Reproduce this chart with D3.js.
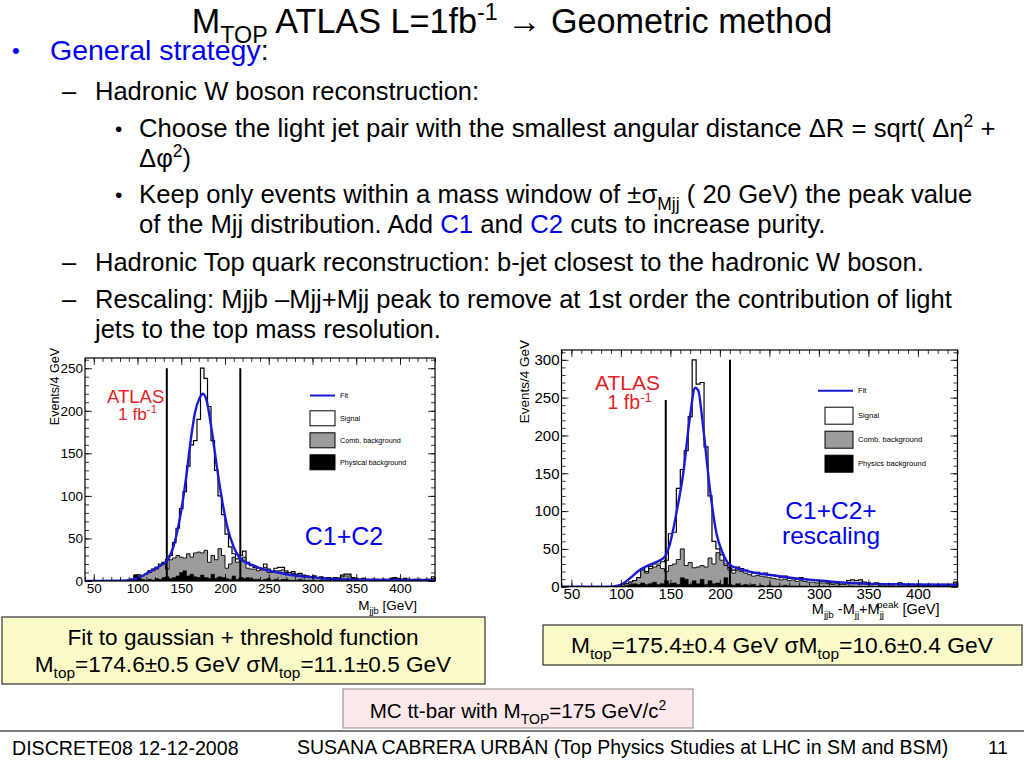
<!DOCTYPE html>
<html>
<head>
<meta charset="utf-8">
<script src="https://cdn.jsdelivr.net/npm/d3@7"></script>
<style>
  body { margin: 0; background: #fff; }
  svg { display: block; font-family: "Liberation Sans", Arial, Helvetica, sans-serif; }
</style>
</head>
<body>
<div id="slide"></div>
<script>
// bins of 4 GeV from 40 to 440 (lower edges)
const binLow = d3.range(40, 440, 4);

// left plot (C1+C2) : stacked heights
const leftAll = [0,0,0,0,0,0,0,0,0,0,
  0,0,1,2,7,7,6,8,12,14,
  16,20,22,25,30,45,62,85,105,135,
  160,165,190,250,238,205,165,130,100,78,
  55,40,32,26,30,35,22,18,16,15,
  14,20,14,11,15,16,16,12,10,11,
  8,9,7,6,5,6,4,5,3,4,
  3,4,3,7,8,8,4,3,2,3,
  2,1,2,2,1,2,1,3,4,3,
  2,3,2,1,2,2,1,2,2,5];
const leftBkg = [0,0,0,0,0,0,0,0,0,0,
  0,0,1,2,7,7,6,8,10,12,
  14,18,20,14,25,27,30,28,27,32,
  28,33,34,33,36,22,30,25,38,30,
  15,20,28,22,24,28,15,14,14,12,
  13,16,10,10,12,12,13,10,8,9,
  7,7,6,5,4,5,3,4,3,3,
  2,3,3,5,6,6,3,2,2,2,
  1,1,2,1,1,1,1,2,3,2,
  2,2,1,1,1,2,1,1,2,3];
const leftPhys = [0,0,0,0,0,0,0,0,0,0,
  0,0,0,2,7,5,2,1,2,1,
  3,2,4,5,3,4,6,10,12,6,
  8,5,4,7,4,3,8,3,5,4,
  3,2,6,2,4,3,4,3,2,2,
  1,2,3,1,2,1,2,2,1,1,
  1,2,1,1,1,1,0,1,0,1,
  0,1,0,1,1,1,0,0,0,0,
  0,0,1,0,0,0,0,1,1,0,
  0,1,0,0,0,1,0,0,1,1];
const leftFit = [[40,0],[80,0.3],[90,1],[99,3],[114,11],[126,18],[134,24],[141,40],
  [149,77],[156,125],[160,159],[166,199],[171,215],[174.6,220],[179,212],[185,176],
  [191,132],[197,93],[203,62],[210,40],[218,26],[233,18],[240,15],[260,10],[275,7],
  [300,4.5],[313,3],[350,1.5],[400,1.2],[440,1]];
const leftCuts = [[133.5,250],[217.5,250]];

// right plot (C1+C2+rescaling)
const rightAll = [0,0,0,0,0,0,0,0,0,0,
  0,0,0,0,0,3,4,6,8,12,
  24,20,27,30,30,33,35,70,72,130,
  155,180,225,300,268,270,185,120,60,50,
  42,30,25,22,26,24,22,20,18,19,
  17,18,16,15,14,12,14,11,12,10,
  12,10,9,9,8,7,7,6,5,6,
  5,5,8,9,8,9,6,5,4,5,
  4,3,4,3,4,5,3,2,3,2,
  3,2,2,3,2,2,3,2,3,6];
const rightBkg = [0,0,0,0,0,0,0,0,0,0,
  0,0,0,0,0,3,4,6,8,12,
  22,18,24,26,28,24,20,28,30,36,
  50,28,32,25,26,28,26,38,30,45,
  35,28,22,18,22,20,18,16,14,15,
  14,13,12,11,10,9,10,8,9,7,
  8,7,6,6,5,5,5,4,3,4,
  3,3,5,6,5,6,4,3,3,3,
  2,2,3,2,3,3,2,1,2,1,
  2,1,1,2,1,1,2,1,2,4];
const rightPhys = [0,0,0,0,0,0,0,0,0,0,
  0,0,0,0,0,1,2,3,4,3,
  5,3,4,6,3,4,8,4,5,3,
  12,10,3,8,4,10,3,8,4,5,
  3,12,3,2,4,2,3,2,3,1,
  2,1,2,1,1,1,2,1,1,1,
  1,1,1,0,1,0,1,0,0,1,
  0,0,1,1,0,1,0,0,1,0,
  0,0,1,0,0,1,0,0,0,0,
  1,0,0,1,0,0,1,0,0,1];
const rightFit = [[40,0],[89,0],[99,2],[109,11],[119,22],[129,29],[139.5,35],[144.5,40],
  [149.6,57],[156,97],[163,150],[169.8,225],[175,263],[178,260],[183,212],[190,128],
  [196.6,70],[203,44],[210,29],[230,20],[251,15.5],[277,11],[311,7],[345,4],[390,3],[440,2.5]];
const rightCuts = [[145.3,247],[210.2,300]];

const xTicks = [50,100,150,200,250,300,350,400];
const legendLabelsLeft = ["Fit","Signal","Comb. background","Physical background"];
const legendLabelsRight = ["Fit","Signal","Comb. background","Physics background"];

const FONT = '"Liberation Sans", Arial, Helvetica, sans-serif';
const BLUE = "#0000ee";
const RED = "#e41e26";

const svg = d3.select("#slide").append("svg")
  .attr("width", 1024).attr("height", 768);

// text with sub/superscripts
function richText(sel, x, y, parts, size, anchor) {
  const t = sel.append("text").attr("x", x).attr("y", y)
    .attr("font-size", size).attr("text-anchor", anchor || "start");
  let shift = 0;
  parts.forEach(p => {
    const want = p.sub ? size * 0.28 : (p.sup ? -size * 0.38 : 0);
    const ts = t.append("tspan").attr("dy", want - shift).text(p.t);
    if (p.sub || p.sup) ts.attr("font-size", size * (p.scale || 0.68));
    if (p.c) ts.attr("fill", p.c);
    if (p.dx) ts.attr("dx", p.dx);
    shift = want;
  });
  return t;
}

function drawPlot(cfg) {
  const x = d3.scaleLinear().domain([40, 440]).range([cfg.left, cfg.right]);
  const y = d3.scaleLinear().domain([0, cfg.yMax]).range([cfg.bottom, cfg.top]);
  const g = svg.append("g");

  const clipId = "clip" + cfg.id;
  g.append("clipPath").attr("id", clipId).append("rect")
    .attr("x", cfg.left).attr("y", cfg.top)
    .attr("width", cfg.right - cfg.left).attr("height", cfg.bottom - cfg.top);
  const plot = g.append("g").attr("clip-path", `url(#${clipId})`);

  const pts = vals => binLow.map((b, i) => [b, vals[i]]).concat([[440, vals[vals.length - 1]]]);
  const area = d3.area().curve(d3.curveStepAfter)
    .x(d => x(d[0])).y0(y(0)).y1(d => y(d[1]));

  plot.append("path").attr("d", area(pts(cfg.all)))
    .attr("fill", "#fff").attr("stroke", "#000").attr("stroke-width", 1.2);
  plot.append("path").attr("d", area(pts(cfg.bkg)))
    .attr("fill", "#9c9c9c").attr("stroke", "#000").attr("stroke-width", 0.9);
  plot.append("path").attr("d", area(pts(cfg.phys)))
    .attr("fill", "#000").attr("stroke", "#000").attr("stroke-width", 0.5);

  plot.selectAll("line.cut").data(cfg.cuts).enter().append("line")
    .attr("class", "cut")
    .attr("x1", d => x(d[0])).attr("x2", d => x(d[0]))
    .attr("y1", y(0)).attr("y2", d => y(d[1]))
    .attr("stroke", "#000").attr("stroke-width", 2);

  plot.append("path").attr("d", d3.line().curve(d3.curveMonotoneX)
      .x(d => x(d[0])).y(d => y(d[1]))(cfg.fit))
    .attr("fill", "none").attr("stroke", "#1a1ad6").attr("stroke-width", 2.4);

  // axes (ticks inside the frame, ROOT style)
  const yMajor = d3.range(0, cfg.yMax, 50);
  const yMinor = d3.range(0, cfg.yMax, 10);
  const xMinor = d3.range(40, 441, 10);
  const axes = [
    [d3.axisBottom(x).tickValues(xTicks).tickSize(-7).tickPadding(2), `translate(0,${cfg.bottom})`, true],
    [d3.axisBottom(x).tickValues(xMinor).tickSize(-4).tickFormat(""), `translate(0,${cfg.bottom})`],
    [d3.axisTop(x).tickValues(xTicks).tickSize(-7).tickFormat(""), `translate(0,${cfg.top})`],
    [d3.axisTop(x).tickValues(xMinor).tickSize(-4).tickFormat(""), `translate(0,${cfg.top})`],
    [d3.axisLeft(y).tickValues(yMajor).tickSize(-7).tickPadding(2), `translate(${cfg.left},0)`, true],
    [d3.axisLeft(y).tickValues(yMinor).tickSize(-4).tickFormat(""), `translate(${cfg.left},0)`],
    [d3.axisRight(y).tickValues(yMajor).tickSize(-7).tickFormat(""), `translate(${cfg.right},0)`],
    [d3.axisRight(y).tickValues(yMinor).tickSize(-4).tickFormat(""), `translate(${cfg.right},0)`]
  ];
  axes.forEach(([ax, tr, lab]) => {
    const a = g.append("g").attr("transform", tr).call(ax)
      .attr("font-family", FONT).attr("font-size", cfg.tickFont);
    a.select(".domain").remove();
    a.selectAll("line").attr("stroke", "#000").attr("stroke-width", 0.8);
    if (lab) a.selectAll("text").attr("fill", "#000");
  });

  g.append("rect").attr("x", cfg.left).attr("y", cfg.top)
    .attr("width", cfg.right - cfg.left).attr("height", cfg.bottom - cfg.top)
    .attr("fill", "none").attr("stroke", "#000").attr("stroke-width", 1.2);

  // y title
  g.append("text").attr("transform", `translate(${cfg.yTitleX},${cfg.top - 10}) rotate(-90)`)
    .attr("text-anchor", "end").attr("font-size", cfg.titleFont).text("Events/4 GeV");

  // x title
  richText(g, cfg.right - 18, cfg.xTitleY, cfg.xTitle, cfg.titleFont + 1, "end");

  // ATLAS label
  g.append("text").attr("x", cfg.atlas[0]).attr("y", cfg.atlas[1])
    .attr("font-size", cfg.atlas[2]).attr("fill", RED).text("ATLAS");
  richText(g, cfg.atlas[0] + cfg.atlas[2] * 0.6, cfg.atlas[1] + cfg.atlas[2] * 0.92,
    [{t: "1 fb"}, {t: cfg.atlasSup, sup: true}], cfg.atlas[2] * 0.93, "start").attr("fill", RED);

  // legend
  const lg = g.append("g").attr("transform", `translate(${cfg.legend[0]},${cfg.legend[1]})`);
  const lw = cfg.legend[2], lh = cfg.legend[3], step = cfg.legend[4];
  cfg.legendLabels.forEach((lab, i) => {
    const yy = i === 0 ? 0 : lh * 0.2 + (i - 1) * step + step * 0.9;
    if (i === 0) {
      lg.append("line").attr("x1", 0).attr("x2", lw).attr("y1", 0).attr("y2", 0)
        .attr("stroke", "#1a1ad6").attr("stroke-width", 2);
    } else {
      lg.append("rect").attr("x", cfg.legend[5]).attr("y", yy - lh / 2)
        .attr("width", lw - cfg.legend[5]).attr("height", lh)
        .attr("fill", ["", "#fff", "#9c9c9c", "#000"][i])
        .attr("stroke", "#000").attr("stroke-width", 1);
    }
    lg.append("text").attr("x", lw + 5).attr("y", yy + cfg.legendFont * 0.35)
      .attr("font-size", cfg.legendFont).attr("fill", "#000").text(lab);
  });

  // cut label
  cfg.tag.forEach((line, i) => {
    g.append("text").attr("x", cfg.tagPos[0]).attr("y", cfg.tagPos[1] + i * cfg.tagPos[3])
      .attr("text-anchor", "middle").attr("font-size", cfg.tagPos[2])
      .attr("fill", BLUE).text(line);
  });
}

drawPlot({
  id: "L", left: 85, right: 435, bottom: 581, top: 358, yMax: 262,
  all: leftAll, bkg: leftBkg, phys: leftPhys, fit: leftFit, cuts: leftCuts,
  tickFont: 13.5, titleFont: 12.5, yTitleX: 59, xTitleY: 610,
  xTitle: [{t: "M"}, {t: "jjb", sub: true}, {t: "  [GeV]"}],
  atlas: [107, 403, 18.5], atlasSup: "-1",
  legend: [310, 395.5, 25, 15, 22, 0], legendLabels: legendLabelsLeft, legendFont: 7.2,
  tag: ["C1+C2"], tagPos: [344, 545, 25, 0]
});

drawPlot({
  id: "R", left: 561.5, right: 957.5, bottom: 586.7, top: 350, yMax: 313,
  all: rightAll, bkg: rightBkg, phys: rightPhys, fit: rightFit, cuts: rightCuts,
  tickFont: 15, titleFont: 13.5, yTitleX: 529, xTitleY: 614,
  xTitle: [{t: "M"}, {t: "jjb", sub: true}, {t: " -M"}, {t: "jj", sub: true},
           {t: "+M"}, {t: "jj", sub: true}, {t: "peak", sup: true, dx: -7}, {t: " [GeV]"}],
  atlas: [595, 390, 21], atlasSup: "-1",
  legend: [818, 390.7, 35, 17, 24, 7], legendLabels: legendLabelsRight, legendFont: 7.6,
  tag: ["C1+C2+", "rescaling"], tagPos: [831, 519, 24.5, 25]
});

// ---- slide text ----
const txt = svg.append("g").attr("font-family", FONT).attr("fill", "#000");

richText(txt, 512, 33, [{t: "M"}, {t: "TOP", sub: true}, {t: " ATLAS L=1fb"}, {t: "-1", sup: true},
  {t: "  \u2192 Geometric method"}], 34.2, "middle");

txt.append("text").attr("x", 12).attr("y", 58).attr("font-size", 22).attr("fill", BLUE).text("\u2022");
richText(txt, 50, 60, [{t: "General strategy", c: BLUE}, {t: ":"}], 28.5);

const L2 = 25.5, L3 = 25.7;
txt.append("text").attr("x", 62).attr("y", 100).attr("font-size", L2).text("\u2013");
txt.append("text").attr("x", 95).attr("y", 100).attr("font-size", L2).text("Hadronic W boson reconstruction:");

txt.append("text").attr("x", 115).attr("y", 136).attr("font-size", 21).text("\u2022");
richText(txt, 139, 137, [{t: "Choose the light jet pair with the smallest angular distance \u0394R = sqrt( \u0394\u03b7"},
  {t: "2", sup: true}, {t: " +"}], L3);
richText(txt, 139, 167, [{t: "\u0394\u03c6"}, {t: "2", sup: true}, {t: ")"}], L3);

txt.append("text").attr("x", 115).attr("y", 202).attr("font-size", 21).text("\u2022");
richText(txt, 139, 203, [{t: "Keep only events within a mass window of \u00b1\u03c3"}, {t: "Mjj", sub: true},
  {t: "  ( 20 GeV) the peak value"}], L3);
richText(txt, 139, 233, [{t: "of the Mjj distribution. Add "}, {t: "C1", c: BLUE}, {t: " and "},
  {t: "C2", c: BLUE}, {t: " cuts to increase purity."}], L3);

txt.append("text").attr("x", 62).attr("y", 271).attr("font-size", L2).text("\u2013");
txt.append("text").attr("x", 95).attr("y", 271).attr("font-size", L2)
  .text("Hadronic Top quark reconstruction: b-jet closest to the hadronic W boson.");
txt.append("text").attr("x", 62).attr("y", 308).attr("font-size", L2).text("\u2013");
txt.append("text").attr("x", 95).attr("y", 308).attr("font-size", L2)
  .text("Rescaling: Mjjb \u2013Mjj+Mjj peak to remove at 1st order the contribution of light");
txt.append("text").attr("x", 95).attr("y", 338).attr("font-size", L2)
  .text("jets to the top mass resolution.");

// result boxes
txt.append("rect").attr("x", 2).attr("y", 617).attr("width", 483).attr("height", 67)
  .attr("fill", "#fbfbc9").attr("stroke", "#333").attr("stroke-width", 1.2);
txt.append("text").attr("x", 243).attr("y", 645).attr("font-size", 22.6).attr("text-anchor", "middle")
  .text("Fit to gaussian + threshold function");
richText(txt, 243, 672, [{t: "M"}, {t: "top", sub: true}, {t: "=174.6\u00b10.5 GeV \u03c3M"}, {t: "top", sub: true},
  {t: "=11.1\u00b10.5 GeV"}], 22.6, "middle");

txt.append("rect").attr("x", 543).attr("y", 625).attr("width", 479).attr("height", 40)
  .attr("fill", "#fbfbc9").attr("stroke", "#333").attr("stroke-width", 1.2);
richText(txt, 782, 653, [{t: "M"}, {t: "top", sub: true}, {t: "=175.4\u00b10.4 GeV \u03c3M"}, {t: "top", sub: true},
  {t: "=10.6\u00b10.4 GeV"}], 22.8, "middle");

txt.append("rect").attr("x", 343).attr("y", 689).attr("width", 350).attr("height", 39)
  .attr("fill", "#fde9ec").attr("stroke", "#888").attr("stroke-width", 1);
richText(txt, 518, 718, [{t: "MC tt-bar with M"}, {t: "TOP", sub: true}, {t: "=175 GeV/c"}, {t: "2", sup: true}],
  20.6, "middle");

// footer
txt.append("line").attr("x1", 0).attr("x2", 1024).attr("y1", 731).attr("y2", 731)
  .attr("stroke", "#000").attr("stroke-width", 1.2);
txt.append("text").attr("x", 12).attr("y", 755).attr("font-size", 19.6).text("DISCRETE08 12-12-2008");
txt.append("text").attr("x", 297).attr("y", 754).attr("font-size", 19.5)
  .text("SUSANA CABRERA URB\u00c1N (Top Physics Studies at LHC in SM and BSM)");
txt.append("text").attr("x", 988).attr("y", 754).attr("font-size", 19).text("11");
</script>
</body>
</html>
